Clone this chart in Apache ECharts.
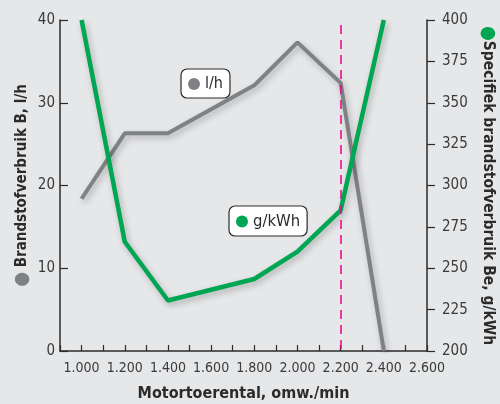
<!DOCTYPE html>
<html><head><meta charset="utf-8">
<script src="https://cdn.jsdelivr.net/npm/echarts@6/dist/echarts.min.js"></script>
<style>html,body{margin:0;padding:0;background:#e6e7e9;}#c{width:500px;height:404px;}</style>
</head><body><div id="c"></div>
<script>
const rpm = [1000, 1200, 1400, 1600, 1800, 2000, 2200, 2400];
const fuelLh = [18.4, 26.3, 26.3, 29.2, 32.1, 37.3, 32.4, 0];
const specGkwh = [400, 266, 230.5, 237, 243.5, 260, 285, 400];
const markRpm = 2200;
const FONT = "'Liberation Sans Narrow','DejaVu Sans Condensed','Roboto Condensed',sans-serif";
const chart = echarts.init(document.getElementById('c'));
const gray = '#808184', green = '#00a651', ink = '#2b2b2b';
chart.setOption({
  backgroundColor: '#e6e7e9',
  textStyle: {fontFamily: FONT},
  grid: {left: 60, right: 73, top: 20, bottom: 53, outerBoundsMode: 'none', containLabel: false},
  legend: [
    {data: ['l/h'], left: 181, top: 69, backgroundColor: '#fff', borderColor: ink, borderWidth: 1.2, borderRadius: 6,
     padding: [7, 7, 6, 7], icon: 'circle', itemWidth: 12, itemHeight: 12, itemGap: 4,
     textStyle: {fontFamily: FONT, fontSize: 16, color: ink}, selectedMode: false},
    {data: ['g/kWh'], left: 229, top: 206, backgroundColor: '#fff', borderColor: ink, borderWidth: 1.2, borderRadius: 6,
     padding: [7, 7, 6, 7], icon: 'circle', itemWidth: 12, itemHeight: 12, itemGap: 4,
     textStyle: {fontFamily: FONT, fontSize: 16.5, color: ink}, selectedMode: false}
  ],
  xAxis: {
    type: 'value', min: 900, max: 2600, interval: 100,
    name: 'Motortoerental, omw./min', nameLocation: 'middle', nameGap: 35,
    nameTextStyle: {fontFamily: FONT, fontSize: 16, fontWeight: 'bold', color: ink},
    axisLine: {lineStyle: {color: ink, width: 1.5}},
    axisTick: {inside: true, length: 6, lineStyle: {color: ink, width: 1.2}},
    axisLabel: {fontFamily: FONT, fontSize: 14, color: '#3a3a3a', margin: 10, hideOverlap: false,
      formatter: v => (v >= 1000 && v % 200 === 0) ? (Math.floor(v/1000) + '.' + String(v % 1000).padStart(3, '0')) : ''},
    splitLine: {show: false}
  },
  yAxis: [
    {type: 'value', min: 0, max: 40, interval: 10, position: 'left',
     name: '{d|●} Brandstofverbruik B, l/h', nameLocation: 'middle', nameRotate: 90, nameGap: 28, nameMoveOverlap: false,
     nameTextStyle: {fontFamily: FONT, fontSize: 15, fontWeight: 'bold', color: ink,
       rich: {d: {color: gray, fontSize: 19}}},
     axisLine: {show: true, lineStyle: {color: ink, width: 1.5}},
     axisTick: {show: true, inside: true, length: 8, lineStyle: {color: ink, width: 1.2}},
     axisLabel: {fontFamily: FONT, fontSize: 15, color: '#3a3a3a', margin: 5},
     splitLine: {show: false}},
    {type: 'value', min: 200, max: 400, interval: 25, position: 'right',
     name: '{d|●}Specifiek brandstofverbruik Be, g/kWh', nameLocation: 'middle', nameRotate: -90, nameGap: 49,
     nameTextStyle: {fontFamily: FONT, fontSize: 15.5, fontWeight: 'bold', color: ink,
       rich: {d: {color: green, fontSize: 19}}},
     axisLine: {show: true, lineStyle: {color: ink, width: 1.5}},
     axisTick: {show: true, length: 8, lineStyle: {color: ink, width: 1.2}},
     axisLabel: {fontFamily: FONT, fontSize: 15, color: '#3a3a3a', margin: 15},
     splitLine: {show: false}}
  ],
  series: [
    {name: 'l/h', type: 'line', yAxisIndex: 0, data: rpm.map((x, i) => [x, fuelLh[i]]),
     showSymbol: false, symbol: 'circle', itemStyle: {color: gray}, z: 2,
     lineStyle: {color: gray, width: 4, shadowBlur: 6, shadowColor: 'rgba(0,0,0,0.25)', shadowOffsetY: 3, shadowOffsetX: 2}},
    {name: 'g/kWh', type: 'line', yAxisIndex: 1, data: rpm.map((x, i) => [x, specGkwh[i]]),
     showSymbol: false, symbol: 'circle', itemStyle: {color: green}, z: 3,
     lineStyle: {color: green, width: 4.5, shadowBlur: 6, shadowColor: 'rgba(0,0,0,0.25)', shadowOffsetY: 3, shadowOffsetX: 2},
     markLine: {silent: true, symbol: 'none', label: {show: false},
       lineStyle: {color: '#ec008c', type: [9, 6], width: 1.5, shadowBlur: 0},
       data: [[{coord: [markRpm, 397]}, {coord: [markRpm, 200]}]]}}
  ]
});
</script></body></html>
